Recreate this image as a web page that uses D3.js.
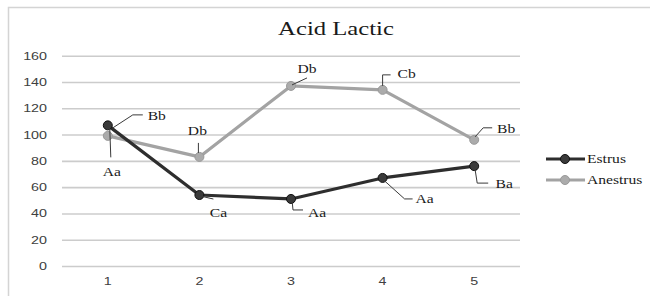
<!DOCTYPE html>
<html>
<head>
<meta charset="utf-8">
<script src="https://cdn.jsdelivr.net/npm/d3@7"></script>
<style>
  body { margin: 0; background: #fff; }
  svg { display: block; }
</style>
</head>
<body>
<svg id="chart" width="650" height="296"></svg>
<script>
// chart data
const categories = ["1", "2", "3", "4", "5"]
const estrus = [107, 54, 51, 67, 76]
const anestrus = [99, 83, 137, 134, 96]
const estrusLabels = ["Aa", "Ca", "Aa", "Aa", "Ba"]
const anestrusLabels = ["Bb", "Db", "Db", "Cb", "Bb"]
const yTicks = [0, 20, 40, 60, 80, 100, 120, 140, 160]

// callout layout (text offset + leader line relative to the point)
const estrusCallouts = [
  { t: [4, 46], l: [[2, 4], [3, 32]] },
  { t: [19, 18], l: [[1, 1], [14, 4]] },
  { t: [26, 14], l: [[1, 1], [2, 11], [12, 11]] },
  { t: [42, 21], l: [[2, 3], [22, 21], [30, 21]] },
  { t: [30, 18], l: [[1, 4], [3, 17], [14, 17]] }
]
const anestrusCallouts = [
  { t: [49, -20], l: [[5, -8], [25, -21], [35, -21]] },
  { t: [-2, -26], l: [[-1, -4], [-1, -14]] },
  { t: [16, -17], l: [[1, -1], [16, -8]] },
  { t: [24, -16], l: [[0, -4], [0, -15], [8, -15]] },
  { t: [32, -11], l: [[1, -3], [9, -12], [18, -12]] }
]

const stretch = 1.3
const svg = d3.select("#chart")

// outer chart frame
svg.append("rect")
  .attr("x", 8.5).attr("y", 7.5)
  .attr("width", 700).attr("height", 320)
  .attr("fill", "none").attr("stroke", "#d4d4d4").attr("stroke-width", 1.5)

const x = d3.scaleBand().domain(categories).range([62, 520]).padding(0)
const cx = d => x(d) + x.bandwidth() / 2
const y = d3.scaleLinear().domain([0, 160]).range([266, 55.7])

// title
svg.append("text")
  .attr("transform", `translate(336,35) scale(${stretch},1)`)
  .attr("text-anchor", "middle")
  .attr("font-family", "Liberation Serif")
  .attr("font-size", 19)
  .attr("fill", "#1a1a1a")
  .text("Acid Lactic")

// y axis with gridlines
const yAxis = svg.append("g")
  .attr("transform", "translate(62,0)")
  .call(d3.axisLeft(y).tickValues(yTicks).tickSize(-458).tickPadding(15))
yAxis.select(".domain").remove()
yAxis.selectAll(".tick line").attr("stroke", "#cccccc").attr("stroke-width", 1.6)
yAxis.selectAll(".tick text")
  .attr("x", 0)
  .attr("transform", `translate(-15,0) scale(${stretch},1)`)
  .attr("font-family", "Liberation Sans")
  .attr("font-size", 11)
  .attr("fill", "#404040")

// x axis
const xAxis = svg.append("g")
  .attr("transform", "translate(0,266)")
  .call(d3.axisBottom(x).tickSize(0).tickPadding(11))
xAxis.select(".domain").remove()
xAxis.selectAll(".tick text")
  .attr("transform", `scale(${stretch},1)`)
  .attr("font-family", "Liberation Sans")
  .attr("font-size", 11)
  .attr("fill", "#404040")

const series = [
  { name: "Estrus", values: estrus, labels: estrusLabels, callouts: estrusCallouts,
    line: "#2e2e2e", fill: "#3a3a3a", stroke: "#111" },
  { name: "Anestrus", values: anestrus, labels: anestrusLabels, callouts: anestrusCallouts,
    line: "#a3a3a3", fill: "#ababab", stroke: "#999" }
]

const line = d3.line().x((d, i) => cx(categories[i])).y(d => y(d))

// draw anestrus first so estrus sits above it at point 1
series.slice().reverse().forEach(s => {
  svg.append("path")
    .datum(s.values)
    .attr("d", line)
    .attr("fill", "none")
    .attr("stroke", s.line)
    .attr("stroke-width", 3.2)
    .attr("stroke-linejoin", "round")

  svg.selectAll(null)
    .data(s.values)
    .enter()
    .append("circle")
    .attr("cx", (d, i) => cx(categories[i]))
    .attr("cy", d => y(d))
    .attr("r", 4.5)
    .attr("fill", s.fill)
    .attr("stroke", s.stroke)
    .attr("stroke-width", 1)
})

// data label callouts
series.forEach(s => {
  s.values.forEach((v, i) => {
    const px = cx(categories[i]), py = y(v)
    const c = s.callouts[i]
    svg.append("path")
      .attr("d", d3.line()(c.l.map(p => [px + p[0], py + p[1]])))
      .attr("fill", "none")
      .attr("stroke", "#3a3a3a")
      .attr("stroke-width", 1)
    svg.append("text")
      .attr("transform", `translate(${px + c.t[0]},${py + c.t[1]}) scale(${stretch},1)`)
      .attr("text-anchor", "middle")
      .attr("dy", "0.35em")
      .attr("font-family", "Liberation Serif")
      .attr("font-size", 12)
      .attr("fill", "#1a1a1a")
      .text(s.labels[i])
  })
})

// legend
const legend = svg.append("g")
series.forEach((s, i) => {
  const ly = 159 + i * 21
  legend.append("line")
    .attr("x1", 546).attr("x2", 585).attr("y1", ly).attr("y2", ly)
    .attr("stroke", s.line).attr("stroke-width", 3.2)
  legend.append("circle")
    .attr("cx", 565).attr("cy", ly).attr("r", 4.5)
    .attr("fill", s.fill).attr("stroke", s.stroke)
  legend.append("text")
    .attr("transform", `translate(587,${ly}) scale(${stretch},1)`)
    .attr("dy", "0.35em")
    .attr("font-family", "Liberation Serif")
    .attr("font-size", 12)
    .attr("fill", "#1a1a1a")
    .text(s.name)
})
</script>
</body>
</html>
